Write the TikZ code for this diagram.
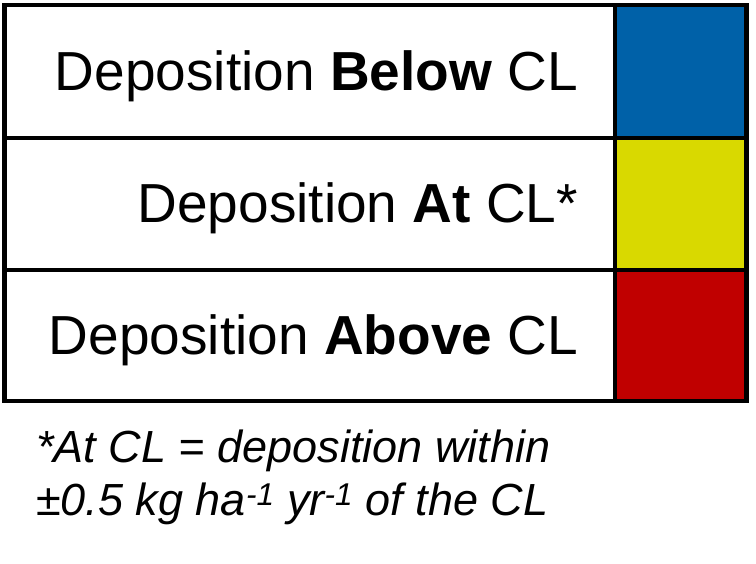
\documentclass[tikz,border=0pt]{standalone}
\usepackage{fontspec}
\setmainfont{Liberation Sans}
\usepackage{tikz}
\definecolor{belowblue}{HTML}{0061A8}
\definecolor{atyellow}{HTML}{D9D900}
\definecolor{abovered}{HTML}{C00000}

\begin{document}
\begin{tikzpicture}[
        x=1pt, y=-1pt,
        grid/.style={draw=black, line width=4.5pt},
        rowlabel/.style={anchor=base east, inner sep=0pt, font=\fontsize{55}{60}\selectfont},
        note/.style={anchor=base west, inner sep=0pt, font=\fontsize{45}{50}\selectfont\itshape}
    ]
        \useasboundingbox (0,0) rectangle (756,563);

        % colour swatches
        \fill[belowblue] (615,5) rectangle (746.5,138);
        \fill[atyellow] (615,138) rectangle (746.5,270);
        \fill[abovered] (615,270) rectangle (746.5,401);

        % table frame
        \draw[grid] (4.5,5) rectangle (746.5,401);
        \draw[grid] (615,5) -- (615,401);
        \draw[grid] (4.5,138) -- (746.5,138);
        \draw[grid] (4.5,270) -- (746.5,270);

        % row labels
        \node[rowlabel] (below) at (578,90) {Deposition \textbf{Below} CL};
        \node[rowlabel] (at) at (578,222) {Deposition \textbf{At} CL*};
        \node[rowlabel] (above) at (578,354) {Deposition \textbf{Above} CL};

        % footnote
        \node[note] (note1) at (36,462) {*At CL = deposition within};
        \node[note] (note2) at (36,515) {{\upshape ±}0.5 kg ha\textsuperscript{-1} yr\textsuperscript{-1} of the CL};
    \end{tikzpicture}
\end{document}
